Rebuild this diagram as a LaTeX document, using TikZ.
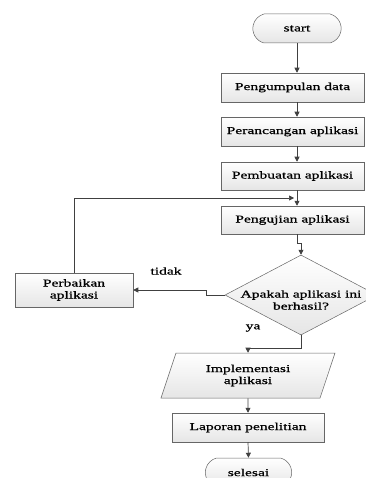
\documentclass[tikz,border=0pt]{standalone}
\usepackage{fontspec}
\setmainfont{Liberation Serif}[FakeStretch=1.48,FakeBold=0.8]
\usetikzlibrary{shapes.geometric,shapes.misc,arrows.meta,calc}
\begin{document}
\begin{tikzpicture}[x=1pt,y=-1pt,
  font=\fontsize{10.5}{12}\selectfont,
  garis/.style={draw=black!75, line width=0.7pt},
  panah/.style={garis, -{Triangle[length=5pt,width=5pt]}},
  isian/.style={draw=black!60, line width=0.5pt, top color=white, bottom color=black!10},
  proses/.style={rectangle, isian, minimum width=143pt, minimum height=29pt, inner sep=2pt, align=center},
  terminal/.style={rounded rectangle, rounded rectangle arc length=150, isian, minimum width=95pt, minimum height=29pt},
  keputusan/.style={diamond, isian, minimum width=152pt, minimum height=80pt, inner sep=0pt},
  masukan/.style={trapezium, trapezium left angle=62, trapezium right angle=118,
    trapezium stretches body, isian, minimum width=174pt, minimum height=45pt, align=center}]
\useasboundingbox (0,0) rectangle (365,478);

% alur utama
\node[terminal] (start) at (297,28.5) {start};
\node[proses] (data) at (292.5,87.5) {Pengumpulan data};
\node[proses] (rancang) at (292.5,131.5) {Perancangan aplikasi};
\node[proses, minimum height=28pt] (buat) at (292.5,176) {Pembuatan aplikasi};
\node[proses, minimum height=28pt] (uji) at (292.5,220) {Pengujian aplikasi};
\node[keputusan, label={[align=center, yshift=-5pt]center:Apakah aplikasi ini\\berhasil?}] (cek) at (301,295) {};
\node[proses, minimum width=118pt, minimum height=34pt] (perbaiki) at (74,290) {Perbaikan\\aplikasi};
\node[masukan] (implementasi) at (248,375.5) {Implementasi\\aplikasi};
\node[proses, minimum width=152pt] (laporan) at (248,427.5) {Laporan penelitian};
\node[terminal, minimum width=93pt] (selesai) at (248.5,472.5) {selesai};

\coordinate (masuk) at ($(buat.south)!0.5!(uji.north)$);

\draw[panah] (start.south) -- (start.south |- data.north);
\draw[panah] (start.south |- data.south) -- (start.south |- rancang.north);
\draw[panah] (start.south |- rancang.south) -- (start.south |- buat.north);
\draw[panah] (start.south |- buat.south) -- (start.south |- uji.north);
\draw[panah] (start.south |- uji.south) -- ++(0,9) -| (cek.north);

% cabang tidak
\draw[panah] (cek.west) -- ++(-18,0) |- (perbaiki.east);
\node (tidak) at (166,271) {tidak};
\draw[panah] (perbaiki.north) |- ([xshift=-3pt]start.south |- masuk);

% cabang ya
\draw[panah] (cek.south) -- ++(0,13) -| (implementasi.north);
\node (ya) at (253,328) {ya};
\draw[panah] (implementasi.south) -- (laporan.north);
\draw[panah] (laporan.south) -- (selesai.north);
\end{tikzpicture}
\end{document}
